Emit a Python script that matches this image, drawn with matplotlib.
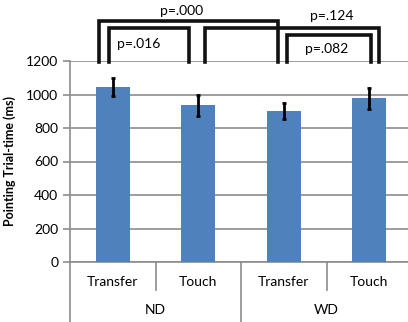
import matplotlib.pyplot as plt
import numpy as np

plt.rcParams['font.family'] = ['Lato', 'DejaVu Sans']

# data
conditions = ["Transfer", "Touch", "Transfer", "Touch"]
groups = ["ND", "WD"]
trial_time = [1045, 935, 900, 977]
errors = [53, 62, 47, 61]

# comparisons: (left x, right x, bracket height, label, label x, label y)
brackets = [(-0.16, 1.93, 1440, "p=.000", 0.80, 1500),
            (-0.04, 0.89, 1397, "p=.016", 0.30, 1300),
            (1.08, 3.11, 1397, "p=.124", 2.56, 1470),
            (2.04, 3.02, 1355, "p=.082", 2.50, 1270)]

fig = plt.figure(figsize=(4.08, 3.22), dpi=100)
ax = fig.add_axes([70 / 408, 60 / 322, 342 / 408, 201 / 322])

x = np.arange(len(trial_time))
ax.bar(x, trial_time, width=0.4, color="#4F81BD", zorder=3)
ax.errorbar(x, trial_time, yerr=errors, fmt="none", ecolor="black",
            elinewidth=2, capsize=1.5, capthick=2, zorder=4)

ax.set_xlim(-0.5, 3.5)
ax.set_ylim(0, 1200)
ax.set_yticks(range(0, 1201, 200))
ax.yaxis.grid(True, color="#8c8c8c", linewidth=1.2, zorder=0)
ax.tick_params(axis="y", length=5, color="#8c8c8c", width=1.2, labelsize=10)
ax.tick_params(axis="x", length=0, labelbottom=False)
for s in ["top", "right"]:
    ax.spines[s].set_visible(False)
ax.spines["left"].set_color("#8c8c8c")
ax.spines["bottom"].set_color("#8c8c8c")
ax.spines["left"].set_linewidth(1.2)
ax.spines["bottom"].set_linewidth(1.2)

ax.set_ylabel("Pointing Trial-time (ms)", fontsize=9, fontweight="bold", labelpad=7)

# two level category axis
tr = ax.get_xaxis_transform()
for i, c in enumerate(conditions):
    ax.text(i, -0.10, c, transform=tr, ha="center", va="center", fontsize=10)
for j, g in enumerate(groups):
    ax.text(2 * j + 0.5, -0.24, g, transform=tr, ha="center", va="center", fontsize=10)
for xs in [0.5, 2.5]:
    ax.plot([xs, xs], [0, -0.14], transform=tr, color="#8c8c8c", lw=1.2, clip_on=False)
for xs in [-0.5, 1.5, 3.5]:
    ax.plot([xs, xs], [0, -0.30], transform=tr, color="#8c8c8c", lw=1.2, clip_on=False)

# significance brackets
for x0, x1, h, lab, lx, ly in brackets:
    ax.plot([x0, x0, x1, x1], [1195, h, h, 1195], color="#111111", lw=2.6,
            clip_on=False, zorder=5, solid_joinstyle="miter")
    ax.text(lx, ly, lab, ha="center", va="center", fontsize=10, clip_on=False)

fig.savefig("out.png", dpi=100)
